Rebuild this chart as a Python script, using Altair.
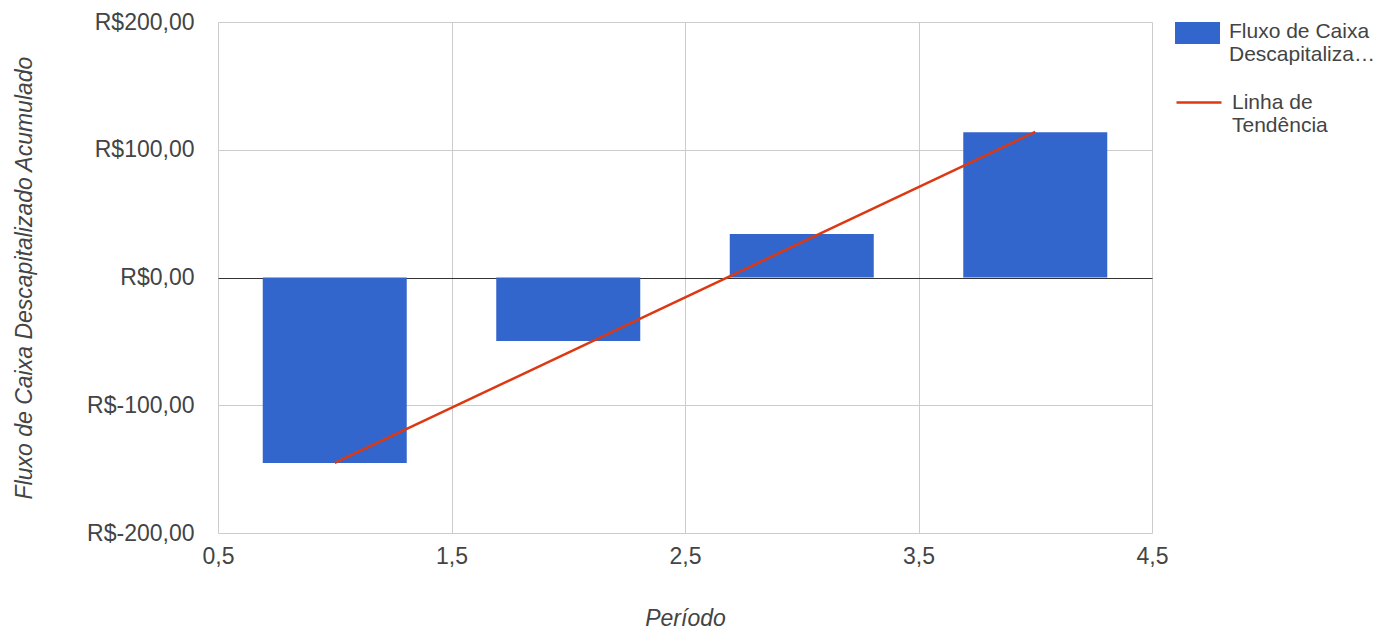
import altair as alt
import pandas as pd

periods = [1, 2, 3, 4]
fluxo = [-145.2, -49.7, 34.0, 113.7]
trend_x = [1, 4]
trend_y = [-145.2, 114.0]
bar_name = "Fluxo de Caixa Descapitalizado Acumulado"
line_name = "Linha de Tendência"

bars_df = pd.DataFrame({"periodo": periods, "valor": fluxo, "serie": bar_name})
trend_df = pd.DataFrame({"periodo": trend_x, "valor": trend_y, "serie": line_name})

FONT = "Liberation Sans"
TXT = "#444444"
FS = 23
LFS = 21

x_enc = alt.X(
    "periodo:Q",
    scale=alt.Scale(domain=[0.5, 4.5], nice=False, zero=False, padding=0),
    axis=alt.Axis(
        values=[0.5, 1.5, 2.5, 3.5, 4.5],
        labelExpr="replace(format(datum.value, '.1f'), '.', ',')",
        title="Período",
        titleFontStyle="italic",
        titleFontWeight="normal",
        titleFontSize=FS,
        titleColor=TXT,
        titlePadding=39,
        labelFontSize=FS,
        labelColor=TXT,
        labelPadding=12,
        ticks=False,
        domain=False,
        gridColor="#cccccc",
        labelFlush=False,
    ),
)

y_enc = alt.Y(
    "valor:Q",
    scale=alt.Scale(domain=[-200, 200], nice=False, padding=0),
    axis=alt.Axis(
        values=[-200, -100, 0, 100, 200],
        labelExpr="'R$' + replace(replace(format(datum.value, '.2f'), '.', ','), '\u2212', '-')",
        title="Fluxo de Caixa Descapitalizado Acumulado",
        titleFontStyle="italic",
        titleFontWeight="normal",
        titleFontSize=FS,
        titleColor=TXT,
        titlePadding=50,
        labelFontSize=FS,
        labelColor=TXT,
        labelPadding=24,
        ticks=False,
        domain=False,
        gridColor=alt.condition("datum.value == 0", alt.value("#333333"), alt.value("#cccccc")),
        labelFlush=False,
    ),
)

bars = alt.Chart(bars_df).mark_bar(size=144).encode(
    x=x_enc,
    y=y_enc,
    y2=alt.datum(0),
    color=alt.Color(
        "serie:N",
        scale=alt.Scale(domain=[bar_name], range=["#3366cc"]),
        legend=alt.Legend(
            title=None,
            orient="none",
            legendX=957,
            legendY=-6.5,
            padding=0,
            symbolType="M-1,-0.711H1V0.267H-1Z",
            symbolSize=2025,
            symbolStrokeWidth=0,
            labelFontSize=LFS,
            labelColor=TXT,
            labelFont=FONT,
            labelOffset=9,
            labelLimit=300,
            labelBaseline="alphabetic",
            labelExpr="['Fluxo de Caixa', 'Descapitaliza…']",
        ),
    ),
)

line = alt.Chart(trend_df).mark_line(strokeWidth=2.5).encode(
    x="periodo:Q",
    y="valor:Q",
    stroke=alt.Stroke(
        "serie:N",
        scale=alt.Scale(domain=[line_name], range=["#dc3912"]),
        legend=alt.Legend(
            title=None,
            orient="none",
            legendX=957,
            legendY=62.5,
            padding=0,
            symbolType="M-1,-0.267L1,-0.267",
            symbolSize=2025,
            symbolStrokeWidth=2.5,
            labelFontSize=LFS,
            labelColor=TXT,
            labelFont=FONT,
            labelOffset=9,
            labelLimit=300,
            labelBaseline="alphabetic",
            labelExpr="['Linha de', 'Tendência']",
        ),
    ),
)

chart = (
    alt.layer(bars, line)
    .resolve_scale(color="independent", stroke="independent")
    .properties(
        width=934,
        height=511,
        autosize=alt.AutoSizeParams(type="none"),
        padding={"left": 210, "top": 14, "right": 225, "bottom": 99},
    )
    .configure(font=FONT)
    .configure_view(stroke=None)
)

chart.save("out.html", embed_options={"renderer": "svg", "actions": False})
